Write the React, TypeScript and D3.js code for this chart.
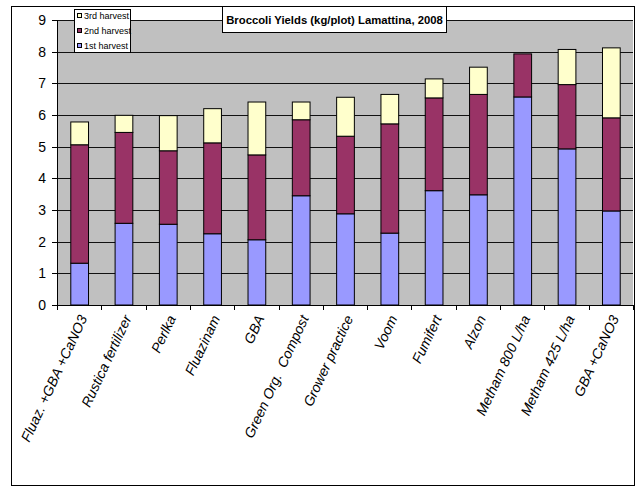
import React from "react";
import * as d3 from "d3";

const categories = [
  "Fluaz. +GBA +CaNO3",
  "Rustica fertilizer",
  "Perlka",
  "Fluazinam",
  "GBA",
  "Green Org.  Compost",
  "Grower practice",
  "Voom",
  "Fumifert",
  "Alzon",
  "Metham 800 L/ha",
  "Metham 425 L/ha",
  "GBA +CaNO3",
];
const harvest1 = [1.32, 2.58, 2.55, 2.25, 2.06, 3.45, 2.88, 2.27, 3.61, 3.48, 6.57, 4.93, 2.97];
const harvest2 = [3.74, 2.87, 2.32, 2.87, 2.68, 2.4, 2.45, 3.45, 2.93, 3.17, 1.36, 2.03, 2.94];
const harvest3 = [0.72, 0.54, 1.11, 1.08, 1.67, 0.56, 1.23, 0.93, 0.6, 0.86, 0, 1.11, 2.21];
const seriesNames = ["1st harvest", "2nd harvest", "3rd harvest"];
const seriesColors = ["#9999FF", "#993366", "#FFFFCC"];
const yTicks = [0, 1, 2, 3, 4, 5, 6, 7, 8, 9];
const title = "Broccoli Yields (kg/plot) Lamattina, 2008";

export default function App() {
  const W = 636, H = 487;
  const left = 57, right = 633, top = 20, bottom = 305;
  const x = d3.scaleBand<string>().domain(categories).range([left, right]).paddingInner(0.6).paddingOuter(0.3);
  const y = d3.scaleLinear().domain([0, 9]).range([bottom, top]);
  const rows = categories.map((c, i) => ({ cat: c, s0: harvest1[i], s1: harvest2[i], s2: harvest3[i] }));
  const stacked = d3.stack<any>().keys(["s0", "s1", "s2"])(rows);
  const step = x.step();
  const font = "Arial, 'Liberation Sans', sans-serif";

  return (
    <svg width={W} height={H} style={{ position: "absolute", left: 0, top: 0, display: "block", background: "#fff" }}>
      <rect x={11.5} y={6.5} width={623} height={479} fill="#fff" stroke="#000" strokeWidth={1} />
      <rect x={left} y={top} width={right - left} height={bottom - top} fill="#C0C0C0" />
      {yTicks.map((t) => (
        <g key={t}>
          {t > 0 && <line x1={left} x2={right} y1={Math.round(y(t)) + 0.5} y2={Math.round(y(t)) + 0.5} stroke="#111" strokeWidth={1} />}
          <line x1={left - 5} x2={left} y1={Math.round(y(t)) + 0.5} y2={Math.round(y(t)) + 0.5} stroke="#000" />
          <text x={46} y={y(t)} dy="0.36em" textAnchor="end" fontFamily={font} fontSize={14} fill="#000">{t}</text>
        </g>
      ))}
      {stacked.map((s, si) => (
        <g key={si}>
          {s.map((d, i) => {
            const y0 = y(d[0]), y1 = y(d[1]);
            if (d[1] - d[0] <= 0) return null;
            return (
              <rect key={i} x={(x(categories[i]) as number) + 0.5} y={y1} width={x.bandwidth()} height={y0 - y1}
                fill={seriesColors[si]} stroke="#000" strokeWidth={1} />
            );
          })}
        </g>
      ))}
      <line x1={left + 0.5} x2={left + 0.5} y1={top} y2={bottom} stroke="#000" />
      <line x1={left} x2={right} y1={bottom + 0.5} y2={bottom + 0.5} stroke="#000" />
      {d3.range(categories.length + 1).map((i) => (
        <line key={i} x1={Math.round(left + i * step) + 0.5} x2={Math.round(left + i * step) + 0.5} y1={bottom} y2={bottom + 5} stroke="#000" />
      ))}
      {categories.map((c) => {
        const cx = (x(c) as number) + x.bandwidth() / 2 + 4;
        const cy = bottom + 11;
        return (
          <text key={c} x={cx} y={cy} transform={`rotate(-65, ${cx}, ${cy})`} textAnchor="end" dy="0.35em"
            fontFamily={font} fontSize={14} fontStyle="italic" fill="#000" style={{ whiteSpace: "pre" }}>{c}</text>
        );
      })}
      <rect x={74.5} y={9.5} width={56} height={43} fill="#fff" stroke="#000" />
      {[2, 1, 0].map((si, k) => {
        const cy = 16 + k * 15;
        return (
          <g key={si}>
            <rect x={77.5} y={cy - 2.5} width={4} height={4} fill={seriesColors[si]} stroke="#000" strokeWidth={1} />
            <text x={84} y={cy} dy="0.35em" fontFamily={font} fontSize={9} fill="#000">{seriesNames[si]}</text>
          </g>
        );
      })}
      <rect x={222.5} y={6.5} width={224} height={26} fill="#fff" stroke="#000" />
      <text x={334.5} y={20} dy="0.35em" textAnchor="middle" fontFamily={font} fontSize={11.3} fontWeight="bold" fill="#000">{title}</text>
    </svg>
  );
}
